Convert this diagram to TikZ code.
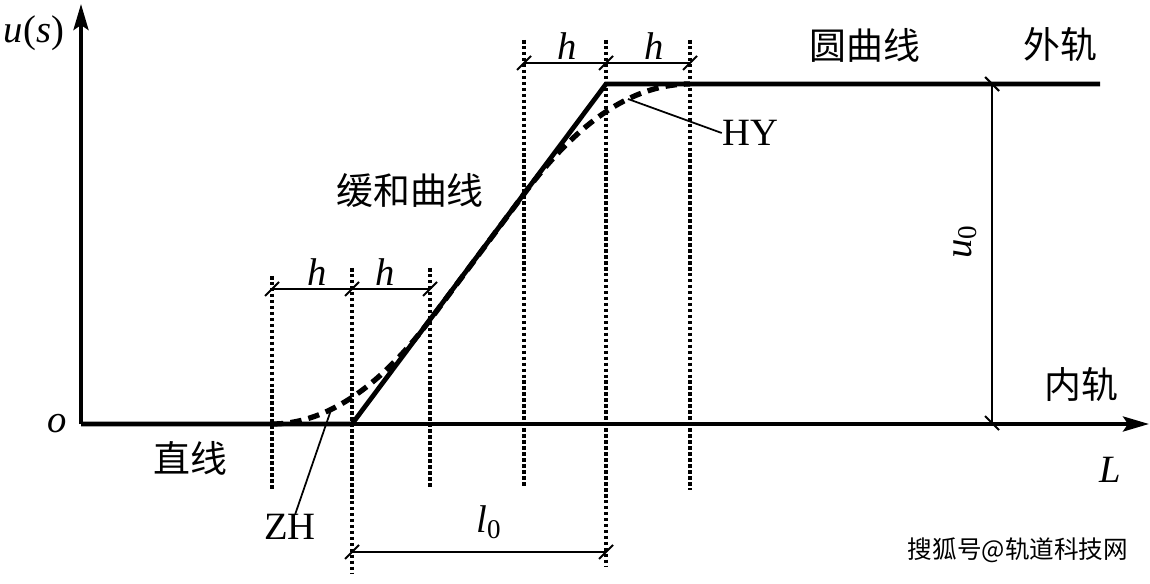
\documentclass[tikz,border=0pt]{standalone}
\usepackage{fontspec}
\setmainfont{Liberation Serif}
\newfontfamily\cjk{Noto Sans CJK SC}
\usetikzlibrary{arrows.meta}
\begin{document}
\begin{tikzpicture}[x=0.02cm,y=-0.02cm,
  axis/.style={line width=2.2pt,-{Stealth[length=0.52cm,width=0.3cm,inset=0.1cm]}},
  track/.style={line width=2.7pt,line join=miter},
  ideal/.style={line width=3pt,dash pattern=on 6.5pt off 4pt},
  guide/.style={line width=1.9pt,dash pattern=on 2pt off 1.4pt},
  dimline/.style={line width=1pt},
  tick/.style={line width=1.2pt},
  leader/.style={line width=1pt},
  lab/.style={inner sep=0pt,font=\fontsize{22}{24}\selectfont},
  clab/.style={inner sep=0pt,font=\fontsize{21}{23}\selectfont\cjk},
]
\useasboundingbox (0,0) rectangle (1150,584);
% key points
\coordinate (O) at (81,424);
\coordinate (Ytop) at (81,4);
\coordinate (Xend) at (1149,424);
\coordinate (A) at (272,424);
\coordinate (B) at (352,424);
\coordinate (C) at (430,320);
\coordinate (D) at (524,194);
\coordinate (E) at (606,84);
\coordinate (F) at (690,84);
\coordinate (G) at (1100,84);
% quadratic-equivalent cubic control points
\coordinate (A1) at (322,424);
\coordinate (C1) at (376,392);
\coordinate (D1) at (579,120);
\coordinate (F1) at (634,84);
% guide lines
\coordinate (gA1) at (272,276); \coordinate (gA2) at (272,491);
\coordinate (gB1) at (352,268); \coordinate (gB2) at (352,574);
\coordinate (gC1) at (430,268); \coordinate (gC2) at (430,488);
\coordinate (gD1) at (524,40);  \coordinate (gD2) at (524,488);
\coordinate (gE1) at (606,40);  \coordinate (gE2) at (606,567);
\coordinate (gF1) at (690,40);  \coordinate (gF2) at (690,490);
\foreach \a/\b in {gA1/gA2,gB1/gB2,gC1/gC2,gD1/gD2,gE1/gE2,gF1/gF2}
  \draw[guide] (\a) -- (\b);
% axes
\draw[axis] (O) -- (Ytop);
\draw[axis] (O) -- (Xend);
% track
\draw[track] (O) -- (B) -- (E) -- (G);
% ideal curve
\draw[ideal] (A) .. controls (A1) and (C1) .. (C) -- (D) .. controls (D1) and (F1) .. (F);
% dimension lines
\coordinate (h1a) at (272,289); \coordinate (h1b) at (352,289); \coordinate (h1c) at (430,289);
\coordinate (h2a) at (524,63);  \coordinate (h2b) at (606,63);  \coordinate (h2c) at (690,63);
\coordinate (l0a) at (352,552); \coordinate (l0b) at (606,552);
\coordinate (u0a) at (992,84);  \coordinate (u0b) at (992,423);
\draw[dimline] (h1a) -- (h1c);
\draw[dimline] (h2a) -- (h2c);
\draw[dimline] (l0a) -- (l0b);
\draw[dimline] (u0a) -- (u0b);
\foreach \p in {h1a,h1b,h1c,h2a,h2b,h2c,l0a,l0b}
  \draw[tick] ([shift={(-7,7)}]\p) -- ([shift={(7,-7)}]\p);
\foreach \p in {u0a,u0b}
  \draw[tick] ([shift={(-7,-7)}]\p) -- ([shift={(7,7)}]\p);
% labels
\node[lab] (us) at (34,33) {\textit{u}(\textit{s})};
\node[lab] (o) at (57,424) {\textit{o}};
\node[lab] (L) at (1110,470) {\textit{L}};
\node[lab] (hA) at (317,272) {\textit{h}};
\node[lab] (hB) at (385,272) {\textit{h}};
\node[lab] (hC) at (567,46) {\textit{h}};
\node[lab] (hD) at (654,46) {\textit{h}};
\node[lab] (l0) at (489,522) {\textit{l}\textsubscript{0}};
\node[lab,rotate=90] (u0) at (965,242) {\textit{u}\textsubscript{0}};
\node[lab] (ZH) at (290,527) {ZH};
\node[lab] (HY) at (750,133) {HY};
\node[clab] (zx) at (190,458) {直线};
\node[clab] (hh) at (410,190) {缓和曲线};
\node[clab] (yq) at (865,45) {圆曲线};
\node[clab] (wg) at (1060,45) {外轨};
\node[clab] (ng) at (1081,384) {内轨};
% leaders
\coordinate (zhp) at (331,410);
\coordinate (hyp) at (628,99);
\draw[leader] (zhp) -- ([xshift=3]ZH.north);
\draw[leader] (hyp) -- (HY.west);
% watermark
\node[inner sep=0pt,font=\fontsize{14}{16}\selectfont\cjk] (wm) at (1018,550) {搜狐号@轨道科技网};
\end{tikzpicture}
\end{document}
